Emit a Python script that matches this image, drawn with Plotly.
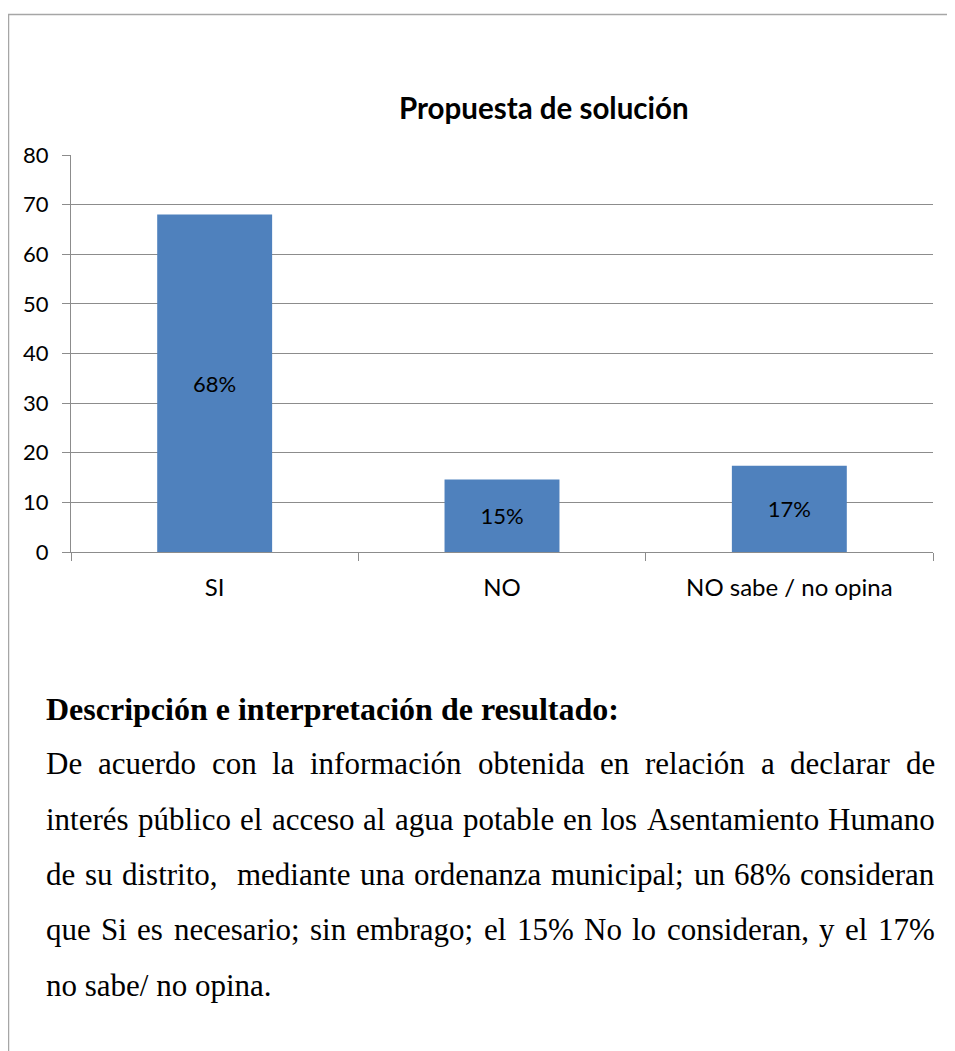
import plotly.graph_objects as go

categories = ["SI", "NO", "NO sabe / no opina"]
values = [68, 14.6, 17.4]
labels = ["68%", "15%", "17%"]
y_ticks = [0, 10, 20, 30, 40, 50, 60, 70, 80]

title_text = "Propuesta de solución"
heading = "Descripción e interpretación de resultado:"
para_lines = [
    "De acuerdo con la información obtenida en relación a declarar de",
    "interés público el acceso al agua potable en los Asentamiento Humano",
    "de su distrito,  mediante una ordenanza municipal; un 68% consideran",
    "que Si es necesario; sin embrago; el 15% No lo consideran, y el 17%",
    "no sabe/ no opina.",
]
justified = [True, True, True, True, False]

# page is shown with an 8px body margin; compensate so page pixels match
OFF = 8
W, H = 955 - OFF, 1051 - OFF
L, R, T, B = 71 - OFF, 933 - OFF, 155 - OFF, 552 - OFF


def px(x):
    return (x - OFF - L) / (R - L)


def py(y):
    return (B - (y - OFF)) / (B - T)


# Times New Roman advance widths (1/1000 em) for text layout
TW = {' ': 250, 'a': 444, 'b': 500, 'c': 444, 'd': 500, 'e': 444, 'f': 333,
      'g': 500, 'h': 500, 'i': 278, 'j': 278, 'k': 500, 'l': 278, 'm': 778,
      'n': 500, 'o': 500, 'p': 500, 'q': 500, 'r': 333, 's': 389, 't': 278,
      'u': 500, 'v': 500, 'w': 722, 'x': 500, 'y': 500, 'z': 444, 'A': 722,
      'D': 722, 'H': 722, 'N': 722, 'S': 556, '%': 833, ';': 278, ',': 250,
      '.': 250, '/': 278, 'á': 444, 'é': 444, 'í': 278, 'ó': 500, 'ú': 500}


def tw(s, size):
    return sum(TW.get(c, 500) for c in s) * size / 1000.0


GRID = "#8c8c8c"
FONT = "Lato"
SERIF = "Liberation Serif"
BODY = 31
HEAD = 32

fig = go.Figure(go.Bar(
    x=categories, y=values, text=labels,
    textposition="inside", insidetextanchor="middle",
    textfont=dict(family=FONT, size=22, color="black"),
    marker=dict(color="#4f81bd", line=dict(width=0)),
    constraintext="none", cliponaxis=False, hoverinfo="skip",
))

fig.update_layout(
    width=W, height=H,
    margin=dict(l=L, r=W - R, t=T, b=H - B, pad=0),
    paper_bgcolor="white", plot_bgcolor="white",
    bargap=0.6, showlegend=False,
    font=dict(family=FONT, size=22, color="black"),
)
fig.update_xaxes(
    showgrid=False, showline=True, linecolor=GRID, linewidth=1,
    ticks="outside", tickson="boundaries", ticklen=8, tickcolor=GRID,
    tickfont=dict(family=FONT, size=24, color="black"),
    ticklabelstandoff=14,
)
fig.update_yaxes(
    range=[0, 80], tickvals=y_ticks, showgrid=True, gridcolor=GRID,
    gridwidth=1, showline=True, linecolor=GRID, linewidth=1,
    ticks="outside", ticklen=8, tickcolor=GRID, zeroline=False,
    tickfont=dict(family=FONT, size=22, color="black"),
    ticklabelstandoff=9,
)


def note(text, x, y, anchor, font):
    return dict(text=text, x=px(x), y=py(y), xref="paper", yref="paper",
                xanchor=anchor, yanchor="middle", showarrow=False,
                borderpad=0, borderwidth=0, font=font)


serif_body = dict(family=SERIF, size=BODY, color="black")
ann = [
    note("<b>" + title_text + "</b>", 544, 107, "center",
         dict(family=FONT, size=29.5, color="black")),
    note("<b>" + heading + "</b>", 46, 709, "left",
         dict(family=SERIF, size=HEAD, color="black")),
]

X0, X1 = 46, 935
line_y = [764, 819, 874, 929, 985]
for text, just, yy in zip(para_lines, justified, line_y):
    if not just:
        ann.append(note(text, X0, yy, "left", serif_body))
        continue
    words = text.split(" ")
    gaps, toks = [], []
    for w in words:
        if w == "":
            gaps[-1] += 1
        else:
            toks.append(w)
            gaps.append(1)
    gaps = gaps[:-1]
    total_w = sum(tw(w, BODY) for w in toks)
    gap_unit = (X1 - X0 - total_w) / sum(gaps)
    x = X0
    for i, w in enumerate(toks):
        if i == len(toks) - 1:
            ann.append(note(w, X1, yy, "right", serif_body))
        else:
            ann.append(note(w, x, yy, "left", serif_body))
            x += tw(w, BODY) + gap_unit * gaps[i]
fig.update_layout(annotations=ann)

FRAME = "#a6a6a6"
fig.add_shape(type="line", xref="paper", yref="paper", x0=px(8), x1=px(960),
              y0=py(14.5), y1=py(14.5), line=dict(color=FRAME, width=1.5))
fig.add_shape(type="line", xref="paper", yref="paper", x0=px(8.5), x1=px(8.5),
              y0=py(14.5), y1=py(1060), line=dict(color=FRAME, width=1.5))

fig.write_html("out.html")
